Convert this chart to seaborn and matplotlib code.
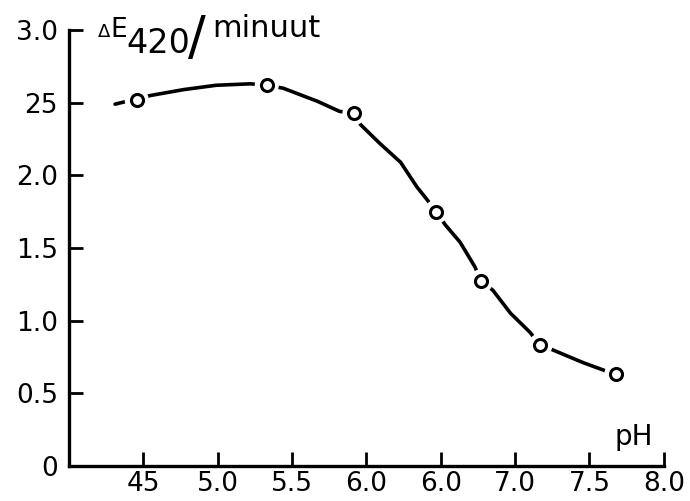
import numpy as np
import pandas as pd
import matplotlib
matplotlib.use("Agg")
import matplotlib.pyplot as plt
import seaborn as sns

# measured points (pH, dE420 per minute)
ph_points = [4.455, 5.33, 5.92, 6.47, 6.77, 7.17, 7.68]
de_points = [2.52, 2.62, 2.43, 1.75, 1.27, 0.83, 0.63]

# hand-drawn fitted curve
curve_ph = [4.31, 4.55, 4.77, 4.99, 5.22, 5.33, 5.44, 5.67, 5.82, 5.92,
            5.96, 6.09, 6.23, 6.34, 6.41, 6.47, 6.53, 6.63, 6.73, 6.77,
            6.85, 6.97, 7.10, 7.17, 7.25, 7.46, 7.62, 7.68]
curve_de = [2.49, 2.55, 2.59, 2.62, 2.63, 2.62, 2.60, 2.51, 2.44, 2.43,
            2.35, 2.22, 2.09, 1.92, 1.83, 1.75, 1.66, 1.54, 1.37, 1.27,
            1.21, 1.05, 0.92, 0.83, 0.80, 0.71, 0.65, 0.63]

x_ticks = [4.5, 5.0, 5.5, 6.0, 6.5, 7.0, 7.5, 8.0]
x_ticklabels = ["45", "5.0", "5.5", "6.0", "6.0", "7.0", "7.5", "8.0"]
y_ticks = [0, 0.5, 1.0, 1.5, 2.0, 2.5, 3.0]
y_ticklabels = ["0", "0.5", "1.0", "1.5", "2.0", "25", "3.0"]

sns.set_style("ticks")
plt.rcParams["font.family"] = ["DejaVu Sans"]
plt.rcParams["text.color"] = "black"
plt.rcParams["xtick.color"] = "black"
plt.rcParams["ytick.color"] = "black"
plt.rcParams["axes.edgecolor"] = "black"

fig = plt.figure(figsize=(6.9, 5.01), dpi=100)
ax = fig.add_axes([0.1, 0.07, 0.862, 0.87])

curve_df = pd.DataFrame({"pH": curve_ph, "dE": curve_de})
pts_df = pd.DataFrame({"pH": ph_points, "dE": de_points})

sns.lineplot(data=curve_df, x="pH", y="dE", sort=False, color="black",
             linewidth=2.6, ax=ax)
# white halo to break the line around each marker
sns.scatterplot(data=pts_df, x="pH", y="dE", s=300, color="white",
                edgecolor="none", zorder=3, ax=ax)
sns.scatterplot(data=pts_df, x="pH", y="dE", s=75, color="white",
                edgecolor="black", linewidth=2.2, zorder=4, ax=ax)

ax.set_xlim(4.0, 8.0)
ax.set_ylim(0, 3.0)
ax.set_xticks(x_ticks)
ax.set_xticklabels(x_ticklabels)
ax.set_yticks(y_ticks)
ax.set_yticklabels(y_ticklabels)
ax.tick_params(direction="in", length=10, width=2, labelsize=19)
ax.tick_params(axis="x", pad=4)
ax.tick_params(axis="y", pad=8)
ax.set_xlabel("")
ax.set_ylabel("")
for side in ["top", "right"]:
    ax.spines[side].set_visible(False)
for side in ["left", "bottom"]:
    ax.spines[side].set_linewidth(2.4)

# y-axis title, built piecewise so the subscript stays large
fig.text(98 / 690, 1 - 37 / 501, "\u0394", fontsize=13, va="baseline")
fig.text(110 / 690, 1 - 37 / 501, "E", fontsize=19, va="baseline")
fig.text(126 / 690, 1 - 53 / 501, "420", fontsize=24, va="baseline")
fig.text(188 / 690, 1 - 54 / 501, "/", fontsize=38, va="baseline")
fig.text(212 / 690, 1 - 37 / 501, "minuut", fontsize=22, va="baseline")
ax.text(7.8, 0.2, "pH", fontsize=20, ha="center", va="center")

fig.savefig("out.png", dpi=100)
